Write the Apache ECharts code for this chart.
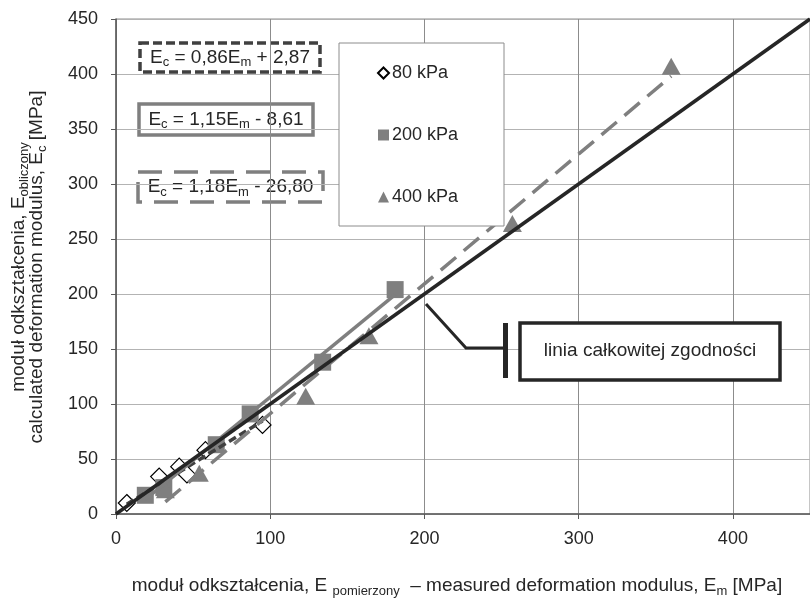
<!DOCTYPE html>
<html>
<head>
<meta charset="utf-8">
<script src="https://cdn.jsdelivr.net/npm/echarts@6/dist/echarts.min.js"></script>
<style>
    html, body { margin: 0; padding: 0; background: #fff; }
    #chart { width: 810px; height: 600px; }
</style>
</head>
<body>
<div id="chart"></div>
<script>
let chart = echarts.init(document.getElementById('chart'));

// punkty pomiarowe [E_m, E_c]
let p80 = [[7, 10], [28, 34], [41, 43], [46, 36], [58, 58], [95, 81]];
let p200 = [[19, 17], [31, 24], [65, 63], [87, 91], [134, 138], [181, 204]];
let p400 = [[32, 22], [54, 37], [123, 107], [164, 162], [257, 264], [360, 407]];

// linie trendu (końce)
let fit80 = [[7, 8.9], [95, 84.6]];
let fit200 = [[19, 13.2], [181, 199.5]];
let fit400 = [[32, 11.0], [360, 398.0]];
let fitEqual = [[0, 0], [450, 450]];

let seriesNames = ['80 kPa', '200 kPa', '400 kPa'];
let axisMax = 450;
let xStep = 100;
let yStep = 50;

let FONT = '"Liberation Sans", Arial, sans-serif';
let TXT = '#262626';
let GRAY = '#7f7f7f';
let DARK = '#404040';

function rich(size) {
    return {
        a: {fontSize: size, fontFamily: FONT, fill: TXT, verticalAlign: 'middle', lineHeight: size + 4},
        s: {fontSize: 13, fontFamily: FONT, fill: TXT, verticalAlign: 'bottom', lineHeight: 13}
    };
}

function eqBox(x, y, w, h, stroke, dash, text) {
    return {
        type: 'group',
        z: 10,
        children: [
            {
                type: 'rect',
                shape: {x: x, y: y, width: w, height: h},
                style: {fill: '#fff', stroke: stroke, lineWidth: 3.5, lineDash: dash}
            },
            {
                type: 'text',
                x: x + w / 2,
                y: y + h / 2,
                style: {text: text, align: 'center', verticalAlign: 'middle', rich: rich(19)}
            }
        ]
    };
}

let option = {
    animation: false,
    backgroundColor: '#fff',
    textStyle: {fontFamily: FONT},
    grid: {
        left: 116, right: 0, top: 19, bottom: 86,
        show: true, borderColor: '#8c8c8c', borderWidth: 1
    },
    xAxis: {
        type: 'value',
        min: 0, max: axisMax, interval: xStep,
        axisLine: {onZero: false, lineStyle: {color: '#595959', width: 1.5}},
        axisTick: {show: true, length: 5, lineStyle: {color: '#595959'}},
        axisLabel: {color: TXT, fontSize: 18, fontFamily: FONT, margin: 16, showMaxLabel: false},
        splitLine: {lineStyle: {color: '#8c8c8c', width: 1}}
    },
    yAxis: {
        type: 'value',
        min: 0, max: axisMax, interval: yStep,
        axisLine: {show: true, onZero: false, lineStyle: {color: '#595959', width: 1.5}},
        axisTick: {show: true, length: 5, lineStyle: {color: '#595959'}},
        axisLabel: {color: TXT, fontSize: 18, fontFamily: FONT, margin: 18},
        splitLine: {lineStyle: {color: '#b3b3b3', width: 1}}
    },
    legend: {
        data: seriesNames,
        orient: 'vertical',
        left: 377, top: 64,
        padding: 0,
        itemWidth: 11, itemHeight: 11,
        itemGap: 44,
        textStyle: {color: TXT, fontSize: 18, fontFamily: FONT, padding: [0, 0, 0, -2]},
        z: 12
    },
    series: [
        {
            name: '80 kPa', type: 'scatter', data: p80, z: 2,
            symbol: 'diamond', symbolSize: 17,
            itemStyle: {color: '#fff', borderColor: '#000', borderWidth: 1.2, opacity: 1}
        },
        {
            name: '200 kPa', type: 'scatter', data: p200, z: 2,
            symbol: 'rect', symbolSize: 17,
            itemStyle: {color: GRAY, opacity: 1}
        },
        {
            name: '400 kPa', type: 'scatter', data: p400, z: 2,
            symbol: 'triangle', symbolSize: [19, 17],
            itemStyle: {color: GRAY, opacity: 1}
        },
        {
            type: 'line', data: fit80, z: 3, showSymbol: false, silent: true,
            lineStyle: {color: DARK, width: 3.5, type: [8, 4]}
        },
        {
            type: 'line', data: fit200, z: 3, showSymbol: false, silent: true,
            lineStyle: {color: GRAY, width: 3.5}
        },
        {
            type: 'line', data: fit400, z: 3, showSymbol: false, silent: true,
            lineStyle: {color: GRAY, width: 3.5, type: [20, 10]}
        },
        {
            type: 'line', data: fitEqual, z: 4, showSymbol: false, silent: true,
            lineStyle: {color: TXT, width: 3.5}
        }
    ],
    graphic: [
        // ramka legendy
        {
            type: 'rect', z: 9,
            shape: {x: 339, y: 43, width: 165, height: 183},
            style: {fill: '#fff', stroke: '#8c8c8c', lineWidth: 1}
        },
        eqBox(140, 43, 180, 29, DARK, [9, 4], '{a|E}{s|c}{a| = 0,86E}{s|m}{a| + 2,87}'),
        eqBox(139, 104, 174, 31, GRAY, null, '{a|E}{s|c}{a| = 1,15E}{s|m}{a| - 8,61}'),
        eqBox(138, 172, 185, 30, GRAY, [24, 12], '{a|E}{s|c}{a| = 1,18E}{s|m}{a| - 26,80}'),
        // linia całkowitej zgodności - opis
        {
            type: 'polyline', z: 10,
            shape: {points: [[426, 304], [466, 348], [505, 348]]},
            style: {stroke: TXT, lineWidth: 3, fill: null}
        },
        {
            type: 'rect', z: 10,
            shape: {x: 503, y: 323, width: 5, height: 55},
            style: {fill: TXT}
        },
        {
            type: 'rect', z: 10,
            shape: {x: 520, y: 323, width: 260, height: 57},
            style: {fill: '#fff', stroke: TXT, lineWidth: 3.5}
        },
        {
            type: 'text', z: 11, x: 650, y: 351,
            style: {text: 'linia całkowitej zgodności', align: 'center', verticalAlign: 'middle',
                fontSize: 19, fontFamily: FONT, fill: TXT}
        },
        // tytuły osi
        {
            type: 'text', z: 11, x: 457, y: 586,
            style: {
                text: '{a|moduł odkształcenia, E }{s|pomierzony}{a|  – measured deformation modulus, E}{s|m}{a| [MPa]}',
                align: 'center', verticalAlign: 'middle', rich: rich(19)
            }
        },
        {
            type: 'text', z: 11, x: 19, y: 267, rotation: Math.PI / 2,
            style: {
                text: '{a|moduł odkształcenia, E}{s|obliczony}',
                align: 'center', verticalAlign: 'middle', rich: rich(19)
            }
        },
        {
            type: 'text', z: 11, x: 37, y: 267, rotation: Math.PI / 2,
            style: {
                text: '{a|calculated deformation modulus, E}{s|c}{a| [MPa]}',
                align: 'center', verticalAlign: 'middle', rich: rich(19)
            }
        }
    ]
};

chart.setOption(option);
</script>
</body>
</html>
